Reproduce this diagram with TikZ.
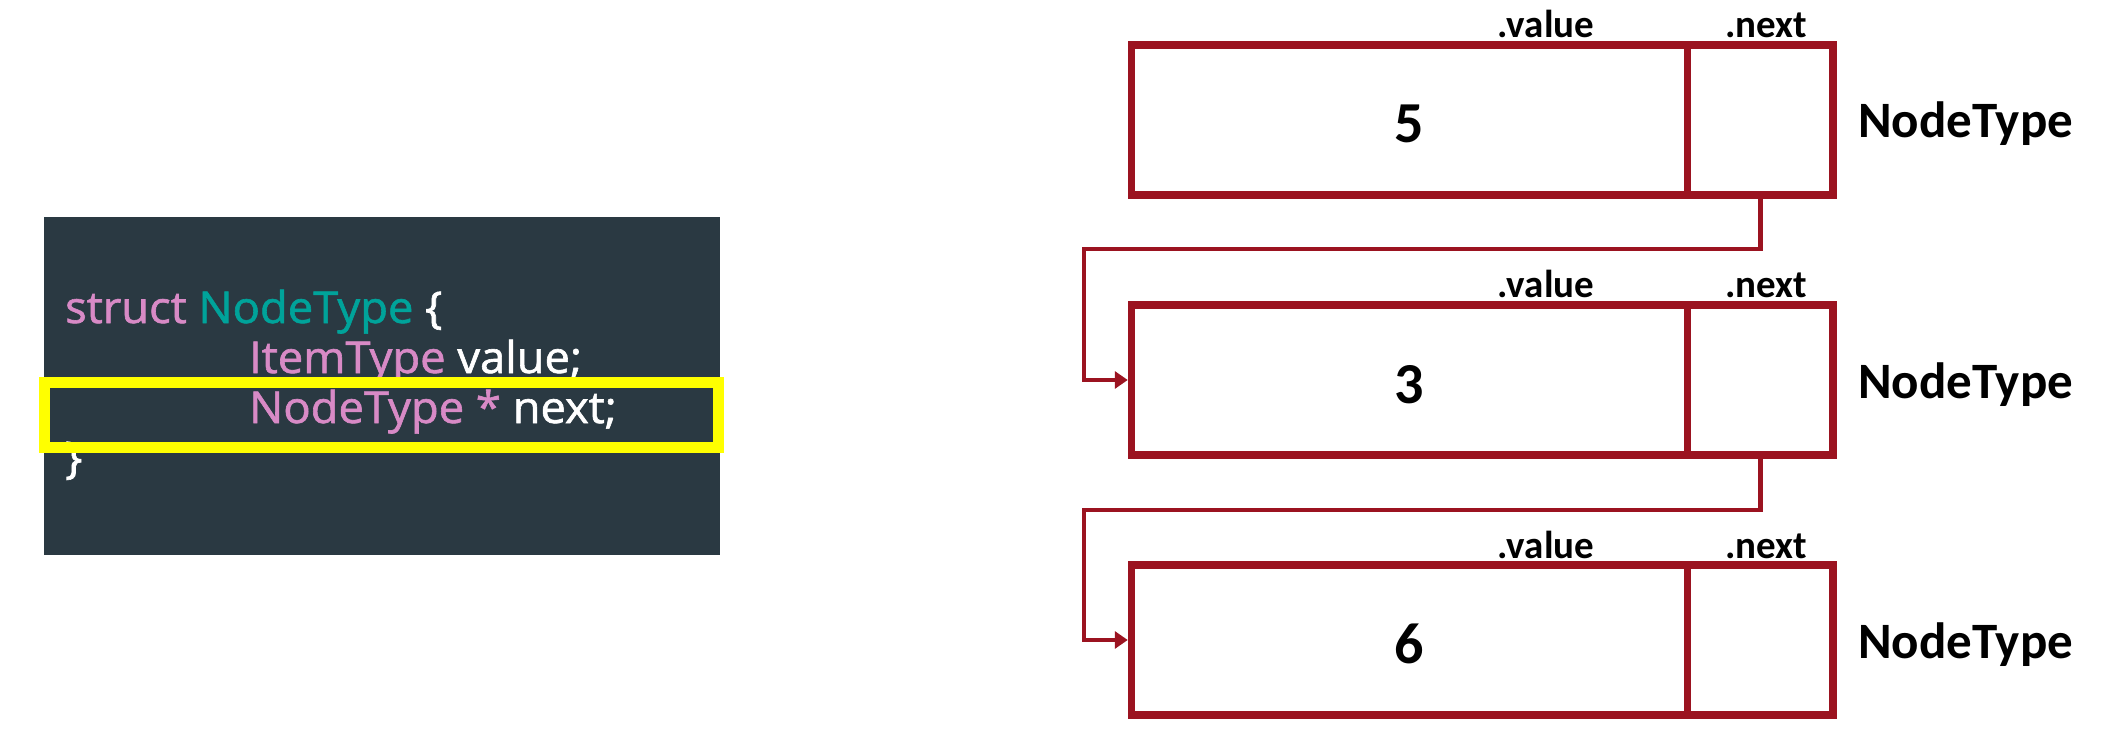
\documentclass[tikz,border=0pt]{standalone}
\usepackage{fontspec}
\usetikzlibrary{arrows.meta}
\newfontfamily\codefont[FakeBold=1.4,FakeStretch=1.03]{Open Sans}
\newfontfamily\labfont{Carlito}
\definecolor{codebg}{HTML}{2A3942}
\definecolor{kwpink}{HTML}{D88AC6}
\definecolor{kwteal}{HTML}{00A39A}
\definecolor{hlyellow}{HTML}{FFFF00}
\definecolor{boxred}{HTML}{9B1320}
\tikzset{
  codetxt/.style={anchor=base west, inner sep=0pt, font=\codefont\fontsize{44}{52}\selectfont},
  cell/.style={draw=boxred, line width=7.5pt, minimum height=150pt, inner sep=0pt},
  valcell/.style={cell, minimum width=556pt},
  nextcell/.style={cell, minimum width=145.5pt},
  fieldlbl/.style={anchor=base, inner sep=0pt, font=\labfont\bfseries\fontsize{39}{44}\selectfont},
  typelbl/.style={anchor=base west, inner sep=0pt, font=\labfont\bfseries\fontsize{51}{60}\selectfont},
  numlbl/.style={anchor=base, inner sep=0pt, font=\labfont\bfseries\fontsize{58}{66}\selectfont},
  conn/.style={draw=boxred, line width=4.5pt, -{Triangle[length=13pt,width=17pt]}}
}
\begin{document}
\begin{tikzpicture}[x=1pt,y=-1pt]
\useasboundingbox (0,0) rectangle (2110,738);
% code panel
\node[fill=codebg, minimum width=676pt, minimum height=338pt, inner sep=0pt] (code) at (382,386) {};
\node[codetxt] (l1) at (65,323) {\textcolor{kwpink}{struct} \textcolor{kwteal}{NodeType} \textcolor{white}{\{}};
\node[codetxt] (l2) at (249,373) {\textcolor{kwpink}{ItemType} \textcolor{white}{value;}};
\node[codetxt] (l3) at (249,423) {\textcolor{kwpink}{NodeType *} \textcolor{white}{next;}};
\node[codetxt] (l4) at (65,473) {\textcolor{white}{\}}};
\node[draw=hlyellow, line width=11pt, minimum width=674pt, minimum height=65pt, inner sep=0pt] (hl) at (381,414.5) {};
% linked nodes
\foreach \i/\y/\n in {1/120/5, 2/380/3, 3/640/6}{
  \node[valcell] (v\i) at (1409.5,\y) {};
  \node[nextcell] (n\i) at (1760.25,\y) {};
  \node[numlbl] (num\i) at (1409.5,\y+23) {\n};
  \node[fieldlbl] (fv\i) at (1546,\y-82) {.value};
  \node[fieldlbl] (fn\i) at (1766,\y-82) {.next};
  \node[typelbl] (t\i) at (1858,\y+18) {NodeType};
}
\coordinate (k1) at (1084,249);
\coordinate (k2) at (1084,510);
\draw[conn] (n1.south) |- (k1) |- (v2.west);
\draw[conn] (n2.south) |- (k2) |- (v3.west);
\end{tikzpicture}
\end{document}
